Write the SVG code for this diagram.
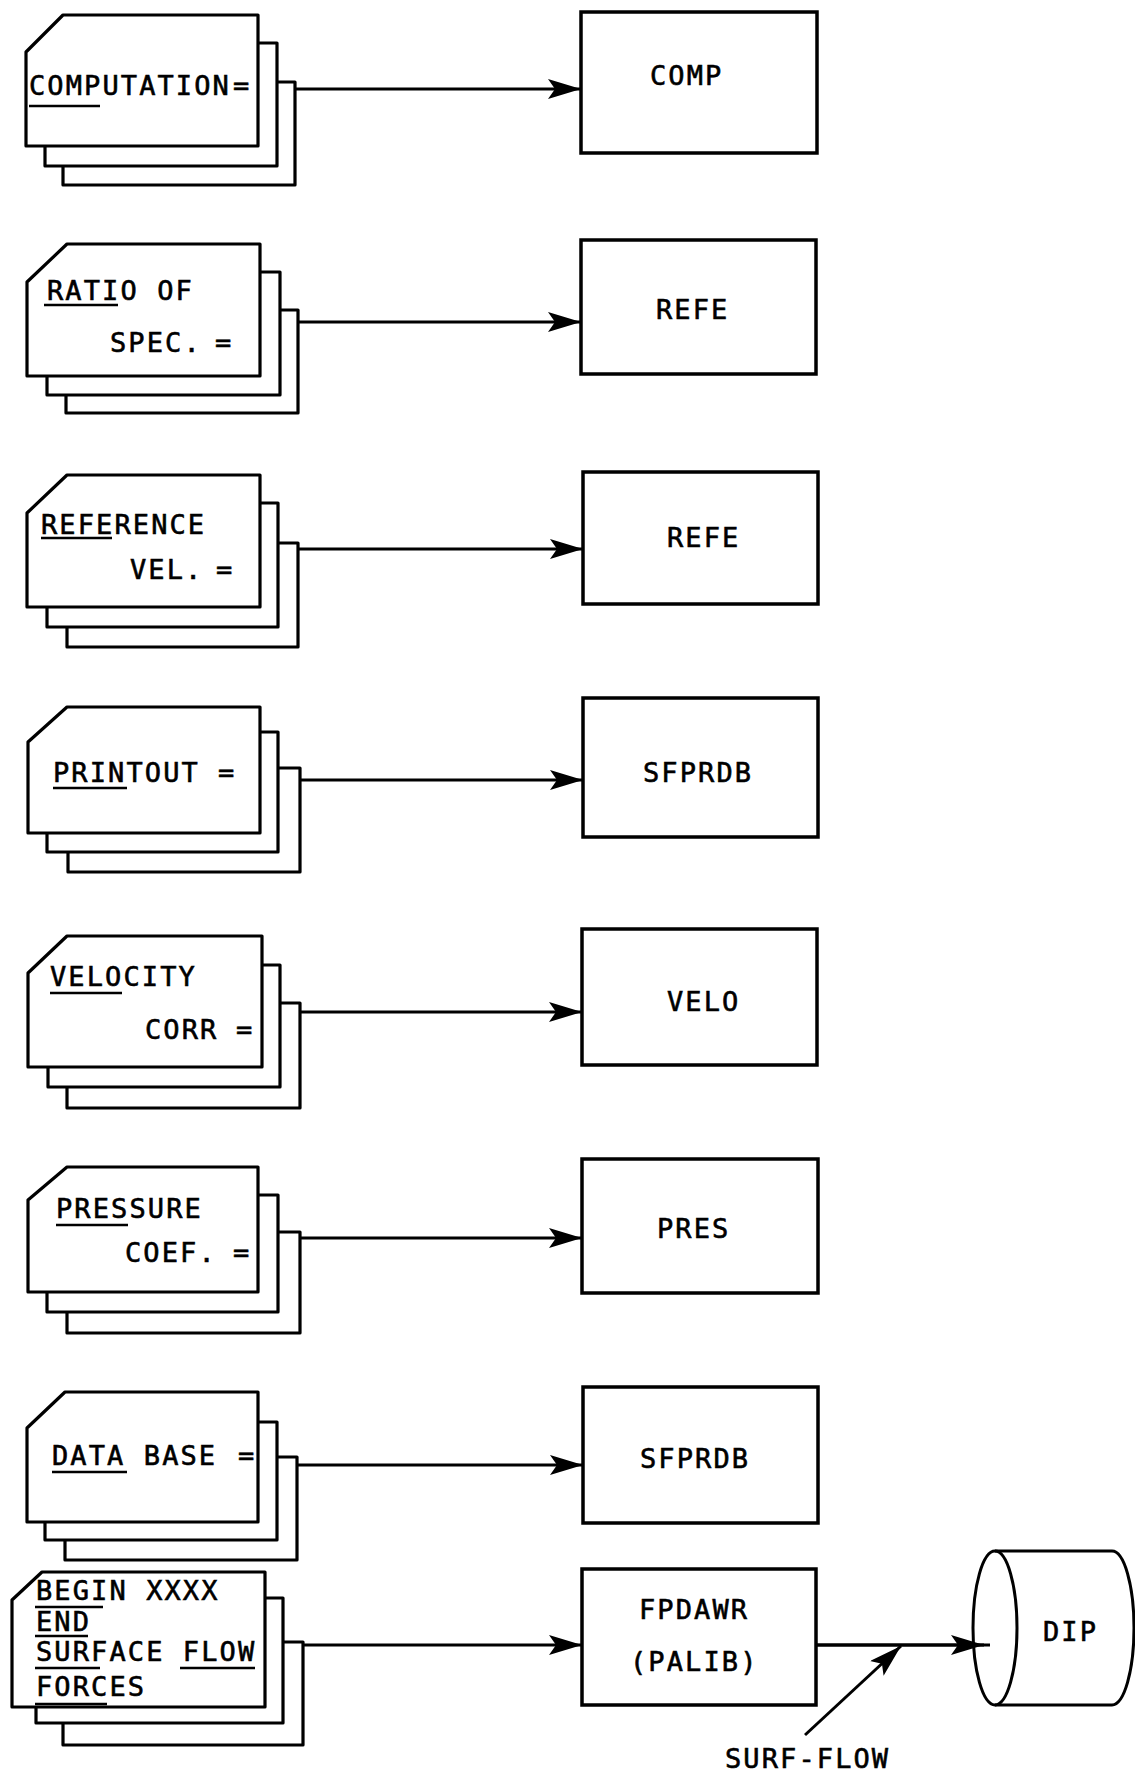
<svg xmlns="http://www.w3.org/2000/svg" width="1135" height="1773" viewBox="0 0 1135 1773">
<style>
.card{fill:#fff;stroke:#000;stroke-width:3.2;stroke-linejoin:round}
.box{fill:#fff;stroke:#000;stroke-width:3.5}
.ln{fill:none;stroke:#000;stroke-width:3}
.ul{stroke:#000;stroke-width:2.5}
text{font-family:"DejaVu Sans Mono","Liberation Mono",monospace;font-size:27px;letter-spacing:2.1px;fill:#000;stroke:#000;stroke-width:0.6}
</style>
<defs>
<marker id="ah" markerUnits="userSpaceOnUse" markerWidth="34" markerHeight="20" refX="33" refY="10" orient="auto">
<path d="M0,0 L33,10 L0,20 L7,10 Z" fill="#000"/>
</marker>
</defs>
<rect width="1135" height="1773" fill="#fff"/>

<g id="card1">
<rect class="card" x="63" y="82" width="232" height="103"/>
<rect class="card" x="45" y="43" width="232" height="123"/>
<path class="card" d="M63,15 L258,15 L258,146 L26,146 L26,52 Z"/>
<text x="29" y="95">COMPUTATION<tspan x="233">=</tspan></text>
<line class="ul" x1="29" y1="106" x2="100" y2="106"/>
</g>
<g id="card2">
<rect class="card" x="66" y="310" width="232" height="103"/>
<rect class="card" x="47" y="272" width="233" height="123"/>
<path class="card" d="M67,244 L260,244 L260,376 L27,376 L27,282 Z"/>
<text x="47" y="300">RATIO OF</text>
<text x="110" y="352">SPEC.<tspan x="215">=</tspan></text>
<line class="ul" x1="44" y1="305" x2="118" y2="305"/>
</g>
<g id="card3">
<rect class="card" x="67" y="543" width="231" height="104"/>
<rect class="card" x="47" y="503" width="231" height="124"/>
<path class="card" d="M67,475 L260,475 L260,607 L27,607 L27,513 Z"/>
<text x="41" y="534">REFERENCE</text>
<text x="130" y="579">VEL.<tspan x="216">=</tspan></text>
<line class="ul" x1="41" y1="538" x2="112" y2="538"/>
</g>
<g id="card4">
<rect class="card" x="68" y="768" width="232" height="104"/>
<rect class="card" x="47" y="732" width="231" height="120"/>
<path class="card" d="M67,707 L260,707 L260,833 L28,833 L28,742 Z"/>
<text x="53" y="782">PRINTOUT<tspan x="218">=</tspan></text>
<line class="ul" x1="53" y1="788" x2="127" y2="788"/>
</g>
<g id="card5">
<rect class="card" x="67" y="1003" width="233" height="105"/>
<rect class="card" x="48" y="965" width="232" height="122"/>
<path class="card" d="M67,936 L262,936 L262,1067 L28,1067 L28,973 Z"/>
<text x="50" y="986">VELOCITY</text>
<text x="145" y="1039">CORR<tspan x="236">=</tspan></text>
<line class="ul" x1="50" y1="993" x2="122" y2="993"/>
</g>
<g id="card6">
<rect class="card" x="67" y="1232" width="233" height="101"/>
<rect class="card" x="47" y="1195" width="231" height="117"/>
<path class="card" d="M67,1167 L258,1167 L258,1292 L28,1292 L28,1200 Z"/>
<text x="56" y="1218">PRESSURE</text>
<text x="125" y="1262">COEF.<tspan x="233">=</tspan></text>
<line class="ul" x1="56" y1="1225" x2="128" y2="1225"/>
</g>
<g id="card7">
<rect class="card" x="65" y="1457" width="232" height="103"/>
<rect class="card" x="45" y="1422" width="232" height="118"/>
<path class="card" d="M65,1392 L258,1392 L258,1522 L27,1522 L27,1428 Z"/>
<text x="52" y="1465">DATA BASE<tspan x="238">=</tspan></text>
<line class="ul" x1="52" y1="1472" x2="127" y2="1472"/>
</g>
<g id="card8">
<rect class="card" x="63" y="1642" width="240" height="103"/>
<rect class="card" x="36" y="1598" width="247" height="125"/>
<path class="card" d="M42,1572 L265,1572 L265,1707 L12,1707 L12,1600 Z"/>
<text x="36" y="1600">BEGIN XXXX</text>
<text x="36" y="1631">END</text>
<text x="36" y="1661">SURFACE FLOW</text>
<text x="36" y="1696">FORCES</text>
<line class="ul" x1="35" y1="1607" x2="103" y2="1607"/>
<line class="ul" x1="35" y1="1636" x2="88" y2="1636"/>
<line class="ul" x1="35" y1="1668" x2="100" y2="1668"/>
<line class="ul" x1="180" y1="1668" x2="255" y2="1668"/>
<line class="ul" x1="35" y1="1704" x2="107" y2="1704"/>
</g>

<g id="box1"><rect class="box" x="581" y="12" width="236" height="141"/><text x="650" y="85">COMP</text></g>
<g id="box2"><rect class="box" x="581" y="240" width="235" height="134"/><text x="656" y="319">REFE</text></g>
<g id="box3"><rect class="box" x="583" y="472" width="235" height="132"/><text x="667" y="547">REFE</text></g>
<g id="box4"><rect class="box" x="583" y="698" width="235" height="139"/><text x="643" y="782">SFPRDB</text></g>
<g id="box5"><rect class="box" x="582" y="929" width="235" height="136"/><text x="667" y="1011">VELO</text></g>
<g id="box6"><rect class="box" x="582" y="1159" width="236" height="134"/><text x="657" y="1238">PRES</text></g>
<g id="box7"><rect class="box" x="583" y="1387" width="235" height="136"/><text x="640" y="1468">SFPRDB</text></g>
<g id="box8"><rect class="box" x="582" y="1569" width="234" height="136"/><text x="639" y="1619">FPDAWR</text><text x="630" y="1671">(PALIB)</text></g>

<g id="dip">
<path class="ln" d="M995,1551 L1112,1551 A22,77 0 0 1 1112,1705 L995,1705"/>
<ellipse class="ln" cx="995" cy="1628" rx="22" ry="77" fill="#fff"/>
<text x="1043" y="1641">DIP</text>
</g>

<g id="connectors">
<line class="ln" x1="295" y1="89" x2="581" y2="89" marker-end="url(#ah)"/>
<line class="ln" x1="298" y1="322" x2="581" y2="322" marker-end="url(#ah)"/>
<line class="ln" x1="298" y1="549" x2="583" y2="549" marker-end="url(#ah)"/>
<line class="ln" x1="300" y1="780" x2="583" y2="780" marker-end="url(#ah)"/>
<line class="ln" x1="300" y1="1012" x2="582" y2="1012" marker-end="url(#ah)"/>
<line class="ln" x1="300" y1="1238" x2="582" y2="1238" marker-end="url(#ah)"/>
<line class="ln" x1="297" y1="1465" x2="583" y2="1465" marker-end="url(#ah)"/>
<line class="ln" x1="303" y1="1645" x2="582" y2="1645" marker-end="url(#ah)"/>
<line class="ln" x1="816" y1="1645" x2="990" y2="1645"/>
<line class="ln" x1="816" y1="1645" x2="984" y2="1645" marker-end="url(#ah)"/>
<line class="ln" x1="805" y1="1735" x2="901" y2="1646" marker-end="url(#ah)"/>
<text x="725" y="1768">SURF-FLOW</text>
</g>
</svg>
